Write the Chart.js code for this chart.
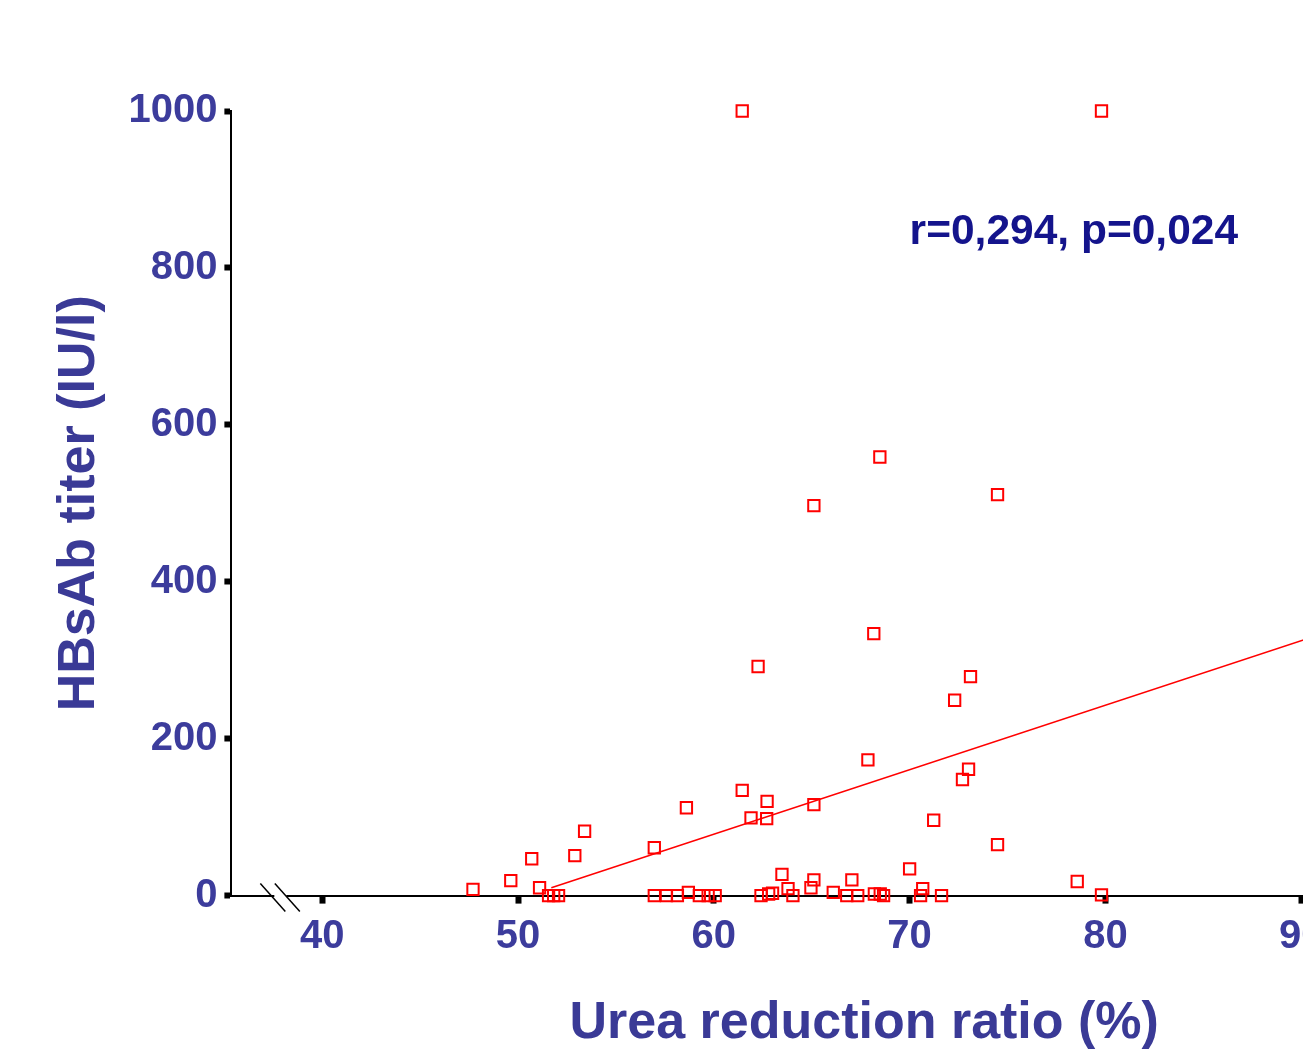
<!DOCTYPE html>
<html>
<head>
<meta charset="utf-8">
<script src="https://cdn.jsdelivr.net/npm/chart.js@4"></script>
<style>
  html, body { margin: 0; padding: 0; background: #fff; overflow: hidden; }
  #chart { display: block; }
</style>
</head>
<body>
<canvas id="chart" width="1560" height="1055"></canvas>
<script>
// urea reduction ratio (%) for each patient
const urr = [
  61.45, 79.8, 68.48, 65.11, 74.49, 68.17, 62.26, 73.11, 72.3, 67.87,
  73.01, 72.7, 61.45, 58.6, 62.72, 65.11, 61.9, 62.7, 71.23, 53.4,
  56.96, 74.49, 50.7, 52.9, 70.0, 49.63, 78.56, 47.7, 51.1,
  63.48, 63.79, 65.11, 64.96, 67.05, 70.67,
  51.56, 51.82, 52.07, 56.96, 57.58, 58.14, 58.7, 59.26, 59.71, 60.07,
  62.41, 62.8, 63.0, 64.04, 66.1, 66.79, 67.35, 68.2, 68.5, 68.67,
  70.56, 71.63, 79.8
];
// HBsAb titer (IU/l), same order
const titer = [
  1000, 1000, 559, 497, 511, 334, 292, 279, 249, 173,
  161, 148, 134, 112, 120, 116, 99, 98, 96, 82,
  61, 65, 47, 51, 34, 19, 18, 8, 10,
  27, 9, 20, 10, 20, 9,
  0, 0, 0, 0, 0, 0, 4, 0, 0, 0,
  0, 2, 3, 0, 4, 0, 0, 2, 2, 0,
  0, 0, 1
];
// regression line ends
const fitX = [51.7, 100];
const fitY = [10, 407];

const xTicks = [40, 50, 60, 70, 80, 90, 100];
const yTicks = [0, 200, 400, 600, 800, 1000];
const statText = 'r=0,294, p=0,024';

const tickBlue = '#3c3c9c';
const titleBlue = '#3a3a96';

// the // mark on the x axis and the r/p label
const extras = {
  id: 'extras',
  afterDraw(chart) {
    const ctx = chart.ctx;
    const xs = chart.scales.x, ys = chart.scales.y;
    const bx = xs.getPixelForValue(37.86);
    const by = ys.getPixelForValue(0);
    ctx.save();
    ctx.fillStyle = '#fff';
    ctx.fillRect(bx - 6, by - 2, 12, 4);
    ctx.strokeStyle = '#000';
    ctx.lineWidth = 1.5;
    [-7.5, 7].forEach(off => {
      ctx.beginPath();
      ctx.moveTo(bx + off - 12.5, by - 12);
      ctx.lineTo(bx + off + 12.5, by + 16);
      ctx.stroke();
    });
    ctx.font = 'bold 42.5px "Liberation Sans", Arial, sans-serif';
    ctx.fillStyle = '#14148c';
    ctx.textAlign = 'left';
    ctx.textBaseline = 'alphabetic';
    ctx.fillText(statText, xs.getPixelForValue(70.0), ys.getPixelForValue(830));
    ctx.restore();
  }
};

new Chart(document.getElementById('chart').getContext('2d'), {
  type: 'scatter',
  data: {
    datasets: [
      {
        label: 'patients',
        data: urr.map((v, i) => ({ x: v, y: titer[i] })),
        pointStyle: 'rect',
        pointRadius: 8,
        borderWidth: 2,
        borderColor: '#ff0000',
        backgroundColor: 'rgba(0,0,0,0)',
        clip: false
      },
      {
        type: 'line',
        label: 'fit',
        data: fitX.map((v, i) => ({ x: v, y: fitY[i] })),
        borderColor: '#ff0000',
        borderWidth: 1.5,
        pointRadius: 0,
        fill: false
      }
    ]
  },
  options: {
    responsive: false,
    animation: false,
    layout: { padding: { top: 111, right: 63, bottom: 0, left: 44 } },
    plugins: { legend: { display: false }, tooltip: { enabled: false } },
    scales: {
      x: {
        type: 'linear',
        min: 35.36,
        max: 100,
        afterBuildTicks: s => { s.ticks = xTicks.map(v => ({ value: v })); },
        border: { color: '#000', width: 2 },
        grid: { drawOnChartArea: false, tickLength: 8, tickWidth: 6, tickColor: '#000' },
        ticks: {
          color: tickBlue,
          padding: 9,
          callback: v => String(v),
          font: { family: '"Liberation Sans", Arial, sans-serif', size: 40, weight: 'bold' }
        },
        title: {
          display: true,
          text: 'Urea reduction ratio (%)',
          color: titleBlue,
          padding: { top: 23, bottom: 0 },
          font: { family: '"Liberation Sans", Arial, sans-serif', size: 52, weight: 'bold' }
        }
      },
      y: {
        min: 0,
        max: 1000,
        afterBuildTicks: s => { s.ticks = yTicks.map(v => ({ value: v })); },
        border: { color: '#000', width: 2 },
        grid: { drawOnChartArea: false, tickLength: 7, tickWidth: 6, tickColor: '#000' },
        ticks: {
          color: tickBlue,
          padding: 7,
          callback: v => String(v),
          font: { family: '"Liberation Sans", Arial, sans-serif', size: 40, weight: 'bold' }
        },
        title: {
          display: true,
          text: 'HBsAb titer (IU/l)',
          color: titleBlue,
          padding: { top: 4, bottom: 11 },
          font: { family: '"Liberation Sans", Arial, sans-serif', size: 52, weight: 'bold' }
        }
      }
    }
  },
  plugins: [extras]
});
</script>
</body>
</html>
